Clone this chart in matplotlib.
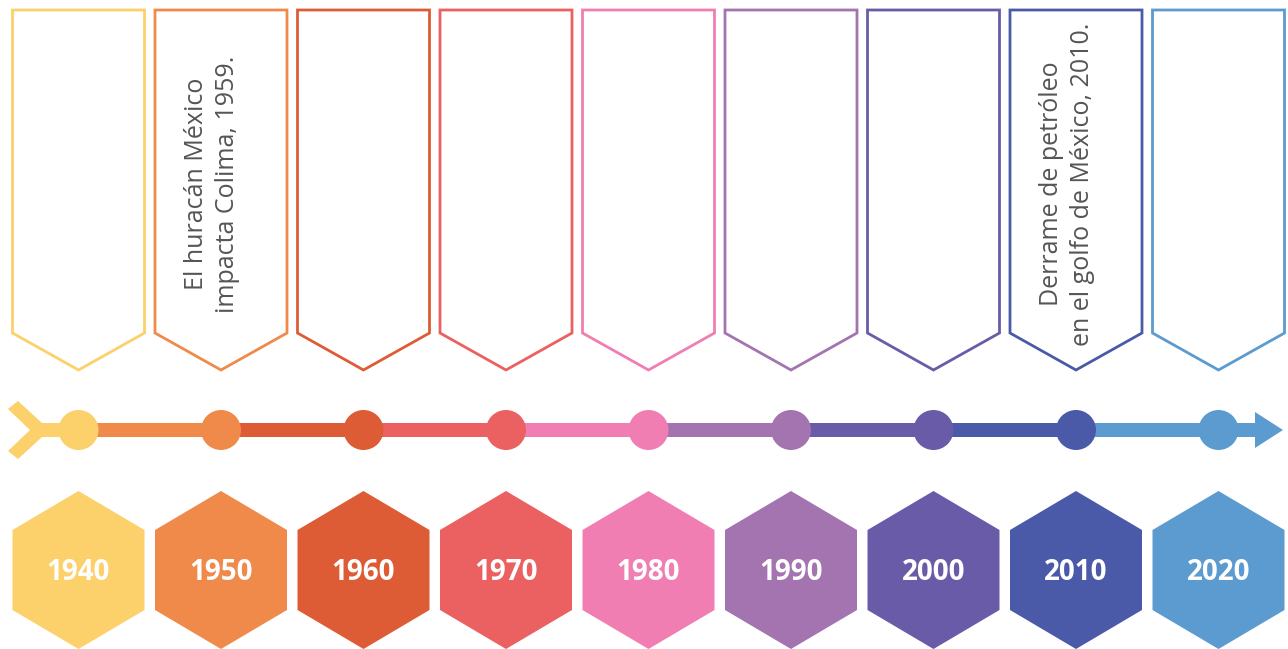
import matplotlib.pyplot as plt
from matplotlib.patches import Polygon, Circle, Rectangle

# --------------------
# Datos de la línea de tiempo
# --------------------
years = ["1940", "1950", "1960", "1970", "1980", "1990", "2000", "2010", "2020"]
colors = ["#FCD06A", "#F08A4B", "#DE5C35", "#EB6060", "#F07EB2",
          "#A374B0", "#6A5BA8", "#4A5AA8", "#5B9BD0"]
notes = [
    "",
    "El huracán México\nimpacta Colima, 1959.",
    "", "", "", "", "",
    "Derrame de petróleo\nen el golfo de México, 2010.",
    "",
]

# geometría (pixeles)
W, H = 1288, 649
X0, STEP = 78.5, 142.5
HALF = 66          # media anchura de banderín / hexágono
LINE_Y, LINE_W = 430, 14
R_DOT = 20

plt.rcParams["font.family"] = ["Open Sans", "DejaVu Sans"]

fig = plt.figure(figsize=(W / 100, H / 100), dpi=100)
ax = fig.add_axes([0, 0, 1, 1])
ax.set_xlim(0, W)
ax.set_ylim(H, 0)
ax.axis("off")

centers = [X0 + STEP * i for i in range(len(years))]

for i, (cx, year, col, note) in enumerate(zip(centers, years, colors, notes)):
    # banderín superior
    banner = Polygon(
        [(cx - HALF, 10), (cx + HALF, 10), (cx + HALF, 333), (cx, 370), (cx - HALF, 333)],
        closed=True, facecolor="white", edgecolor=col, linewidth=2, zorder=2,
    )
    ax.add_patch(banner)
    if note:
        ax.text(cx - 9, 184, note, rotation=90, ha="center", va="center",
                multialignment="center", fontsize=18, color="#555555",
                linespacing=1.35, zorder=3)

    # tramo de línea que llega a este punto
    x_start = centers[i - 1] if i > 0 else 40
    ax.add_patch(Rectangle((x_start, LINE_Y - LINE_W / 2), cx - x_start, LINE_W,
                           facecolor=col, edgecolor="none", zorder=2))
    ax.add_patch(Circle((cx, LINE_Y), R_DOT, facecolor=col, edgecolor="none", zorder=4))

    # hexágono con el año
    hexa = Polygon(
        [(cx, 491), (cx + HALF, 530), (cx + HALF, 610), (cx, 649), (cx - HALF, 610), (cx - HALF, 530)],
        closed=True, facecolor=col, edgecolor="none", zorder=2,
    )
    ax.add_patch(hexa)
    ax.text(cx, 573, year, ha="center", va="center", fontsize=20,
            fontweight="bold", color="white", zorder=3)

# cola y punta de flecha
tail = Polygon(
    [(8, 409), (18, 401), (42, 423), (60, 423), (60, 437), (42, 437), (18, 459), (8, 451), (30, 430)],
    closed=True, facecolor=colors[0], edgecolor="none", zorder=2,
)
ax.add_patch(tail)
ax.add_patch(Rectangle((centers[-1], LINE_Y - LINE_W / 2), 1257 - centers[-1], LINE_W,
                       facecolor=colors[-1], edgecolor="none", zorder=2))
ax.add_patch(Polygon([(1255, 412), (1283, LINE_Y), (1255, 448)], closed=True,
                     facecolor=colors[-1], edgecolor="none", zorder=2))

fig.savefig("out.png", dpi=100)
